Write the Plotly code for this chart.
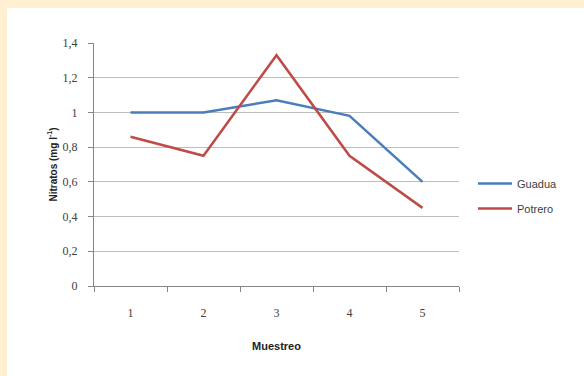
import plotly.graph_objects as go

muestreo = ["1", "2", "3", "4", "5"]
guadua = [1.00, 1.00, 1.07, 0.98, 0.60]
potrero = [0.86, 0.75, 1.33, 0.75, 0.45]
y_ticks = [0, 0.2, 0.4, 0.6, 0.8, 1.0, 1.2, 1.4]
y_labels = ["0", "0,2", "0,4", "0,6", "0,8", "1", "1,2", "1,4"]

W, H = 584, 376
L, R, T, B = 94, 125, 43, 90
pw, ph = W - L - R, H - T - B

def px_x(p):
    return (p - L) / pw

def px_y(p):
    return (H - B - p) / ph

fig = go.Figure()
fig.add_trace(go.Scatter(x=muestreo, y=guadua, mode="lines", name="Guadua",
                         legendgroup="g1",
                         line=dict(color="#4A7EBB", width=2.5)))
fig.add_trace(go.Scatter(x=muestreo, y=potrero, mode="lines", name="Potrero",
                         legendgroup="g2",
                         line=dict(color="#BE4B48", width=2.5)))

cream = "#FFF0D2"
fig.update_layout(
    width=W, height=H,
    margin=dict(l=L, r=R, t=T, b=B, autoexpand=False),
    paper_bgcolor="white", plot_bgcolor="white",
    font=dict(family="Liberation Sans", size=11, color="#404040"),
    showlegend=True,
    legend=dict(x=px_x(473), y=px_y(196), xanchor="left", yanchor="middle",
                font=dict(family="Liberation Sans", size=11, color="#404040"),
                itemwidth=34, tracegroupgap=6, bgcolor="rgba(0,0,0,0)"),
    shapes=[
        dict(type="rect", xref="paper", yref="paper", layer="below",
             x0=px_x(0), x1=px_x(7), y0=px_y(H), y1=px_y(0),
             fillcolor=cream, line=dict(width=0)),
        dict(type="rect", xref="paper", yref="paper", layer="below",
             x0=px_x(0), x1=px_x(W), y0=px_y(8), y1=px_y(0),
             fillcolor=cream, line=dict(width=0)),
    ],
)
fig.update_xaxes(type="category", range=[-0.5, 4.5], tickson="boundaries",
                 ticks="outside", ticklen=5,
                 tickcolor="#868686", showline=True, linecolor="#868686", linewidth=1,
                 showgrid=False, ticklabelstandoff=16,
                 tickfont=dict(family="Liberation Serif", size=12, color="#404040"),
                 title=dict(text="<b>Muestreo</b>", standoff=22,
                            font=dict(family="Liberation Sans", size=11, color="#222222")))
fig.update_yaxes(range=[0, 1.4], tickvals=y_ticks, ticktext=y_labels,
                 ticks="outside", ticklen=5, tickcolor="#868686",
                 showline=True, linecolor="#868686", linewidth=1,
                 showgrid=True, gridcolor="#BDBDBD", gridwidth=1, zeroline=False,
                 ticklabelstandoff=8,
                 tickfont=dict(family="Liberation Serif", size=12, color="#404040"),
                 title=dict(text="<b>Nitratos (mg l<sup>-1</sup>)</b>", standoff=3,
                            font=dict(family="Liberation Sans", size=10, color="#222222")))

fig.write_html("out.html", config={"displayModeBar": False},
               post_script="document.body.style.margin='0px';")
